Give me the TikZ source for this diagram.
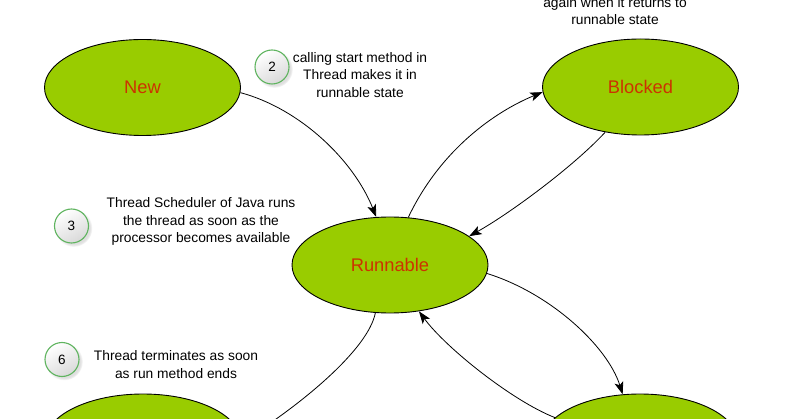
\documentclass[tikz,border=0pt]{standalone}
\usepackage{fontspec}
\setmainfont{Liberation Sans}
\usetikzlibrary{shapes.geometric,arrows.meta,shadows}
\definecolor{stfill}{RGB}{153,204,0}
\definecolor{sttext}{RGB}{204,51,0}
\definecolor{badgegreen}{RGB}{95,180,95}
\begin{document}
\begin{tikzpicture}[x=1pt,y=-1pt,
 state/.style={ellipse,draw=black,line width=0.9pt,fill=stfill,minimum width=196pt,minimum height=96pt,inner sep=0pt,text=sttext,font=\fontsize{18.3}{22}\selectfont},
 badge/.style={circle,draw=badgegreen,line width=1.1pt,minimum size=34pt,inner sep=0pt,top color=white,bottom color=gray!30,shading angle=30,circular drop shadow={shadow xshift=2pt,shadow yshift=-2pt,opacity=0.25,fill=gray},font=\fontsize{13.5}{15}\selectfont},
 note/.style={align=center,font=\fontsize{13.8}{17.3}\selectfont,inner sep=0pt},
 arr/.style={-{Stealth[length=12.5pt,width=9pt,inset=3pt]},line width=0.8pt}]
\useasboundingbox (0,0) rectangle (799,419);
\clip (0,0) rectangle (799,419);
\fill[white] (0,0) rectangle (799,419);

\node[state] (new) at (142.5,87.5) {New};
\node[state] (blk) at (640.5,87) {Blocked};
\node[state] (run) at (390,265) {Runnable};
\node[state] (bl) at (143,442) {};
\node[state] (br) at (640,442) {};

\node[badge] (b2) at (272,67) {2};
\node[badge] (b3) at (71.5,226) {3};
\node[badge] (b6) at (62,359.5) {6};

\node[note] (t0) at (615,11) {again when it returns to\\runnable state};
\node[note] (t2) at (360,75) {calling start method in\\Thread makes it in\\runnable state};
\node[note] (t3) at (201,221.5) {Thread Scheduler of Java runs\\the thread as soon as the\\processor becomes available};
\node[note] (t6) at (176,364.5) {Thread terminates as soon\\as run method ends};

\draw[arr] (new.-3) .. controls (301,109) and (354,161) .. (run.106);
\draw[arr] (run.69) .. controls (441,148.5) and (496.5,111) .. (blk.183);
\draw[arr] (blk.232) .. controls (573,167) and (509,214) .. (run.20);
\draw[arr] (run.-5) .. controls (550,293) and (607.5,346) .. (br.110);
\draw[arr] (br.164) .. controls (512.5,401) and (446,348) .. (run.-58);
\draw[arr] (run.-107) .. controls (368,350) and (300,405) .. (bl.0);
\end{tikzpicture}
\end{document}
